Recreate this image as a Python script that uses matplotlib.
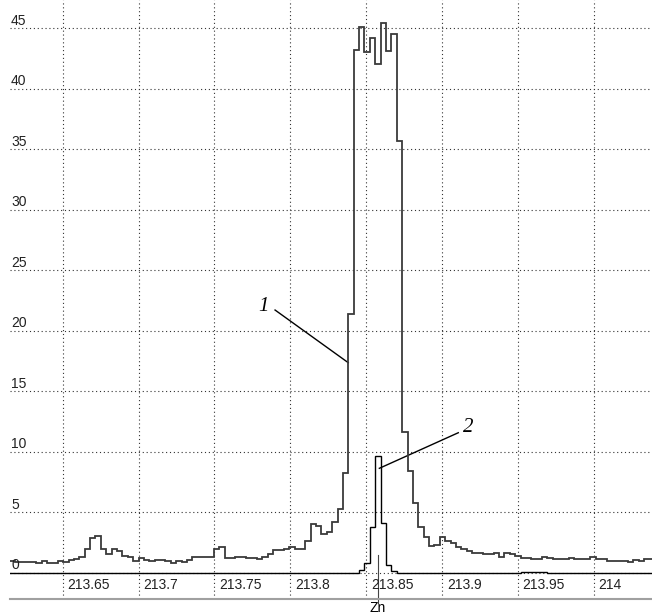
import numpy as np
import matplotlib
matplotlib.use('Agg')
import matplotlib.pyplot as plt

# spectrum bins (nm), uniform width
x_start = 213.6149
bin_width = 0.003544

# curve 1 - broad line
curve1 = [0.95, 0.9, 0.88, 0.85, 0.85, 0.77, 0.97, 0.77, 0.82, 0.97,
          0.87, 1.05, 1.17, 1.3, 2.0, 2.84, 3.03, 2.0, 1.52, 2.0,
          1.8, 1.4, 1.27, 1.0, 1.2, 1.05, 0.95, 1.05, 1.05, 0.97,
          0.8, 0.97, 0.87, 1.05, 1.27, 1.27, 1.27, 1.27, 1.93, 2.1,
          1.24, 1.24, 1.32, 1.32, 1.24, 1.24, 1.13, 1.32, 1.55, 1.88,
          1.88, 2.0, 2.15, 1.96, 1.96, 2.62, 4.0, 3.86, 3.17, 3.33,
          4.2, 5.26, 8.27, 21.4, 43.2, 45.1, 43.0, 44.2, 42.0, 45.4,
          43.1, 44.5, 35.7, 11.65, 8.43, 5.8, 3.75, 2.98, 2.23, 2.28,
          2.92, 2.62, 2.43, 2.15, 1.96, 1.82, 1.6, 1.6, 1.52, 1.52,
          1.6, 1.27, 1.6, 1.52, 1.4, 1.24, 1.24, 1.13, 1.13, 1.28,
          1.24, 1.13, 1.13, 1.13, 1.24, 1.13, 1.13, 1.13, 1.32, 1.13,
          1.13, 1.0, 0.97, 0.97, 0.97, 0.85, 1.05, 1.0, 1.1, 1.1]

# curve 2 - narrow line, zero except around the peak
curve2 = [0.0] * 120
curve2[65:72] = [0.2, 0.8, 3.8, 9.65, 4.1, 0.6, 0.15]
curve2[95:100] = [0.1, 0.1, 0.1, 0.1, 0.1]

xticks = [213.65, 213.7, 213.75, 213.8, 213.85, 213.9, 213.95, 214.0]
xlabels = ['213.65', '213.7', '213.75', '213.8', '213.85', '213.9', '213.95', '214']
yticks = [0, 5, 10, 15, 20, 25, 30, 35, 40, 45]

zn_line = 213.8575

edges = x_start + bin_width * np.arange(len(curve1) + 1)

plt.rcParams['font.family'] = ['Liberation Sans', 'DejaVu Sans']

fig = plt.figure(figsize=(6.52, 6.15), dpi=100)
ax = fig.add_axes([10 / 652, 16 / 615, 642 / 652, 599 / 615])

ax.stairs(curve1, edges, color='#3a3a3a', lw=1.3, zorder=3)
ax.stairs(curve2, edges, color='black', lw=1.0, zorder=4)

ax.set_xlim(213.6153, 214.0382)
ax.set_ylim(-2.17, 47.33)

ax.set_xticks(xticks)
ax.set_yticks(yticks)
ax.set_xticklabels([])
ax.set_yticklabels([])
ax.tick_params(length=0)
ax.grid(True, linestyle=(0, (1, 2.5)), color='#333333', lw=0.8)
ax.set_axisbelow(True)

for s in ['left', 'top', 'right']:
    ax.spines[s].set_visible(False)
ax.spines['bottom'].set_color('#a0a0a0')
ax.spines['bottom'].set_linewidth(1.5)

# tick labels drawn inside the plot area
for t, lab in zip(xticks, xlabels):
    ax.text(t + 0.003, -1.02, lab, fontsize=10, ha='left', va='center', color='#222222')
for v in yticks:
    ax.text(0.0016, v + 0.3, str(v), fontsize=10, ha='left', va='baseline',
            color='#222222', transform=ax.get_yaxis_transform())

# Zn marker
ax.plot([zn_line, zn_line], [1.46, -2.48], color='#444444', lw=0.8, clip_on=False)
ax.text(zn_line, -2.9, 'Zn', fontsize=10, ha='center', va='center', clip_on=False)

# curve labels
ax.plot([213.7899, 213.8381], [21.71, 17.36], color='black', lw=1.0)
ax.text(213.7826, 22.0, '1', fontsize=15, family='Liberation Serif',
        style='italic', ha='center', va='center')
ax.plot([213.8586, 213.9106], [8.63, 11.57], color='black', lw=1.0)
ax.text(213.9170, 12.04, '2', fontsize=15, family='Liberation Serif',
        style='italic', ha='center', va='center')

fig.savefig('out.png', dpi=100)
